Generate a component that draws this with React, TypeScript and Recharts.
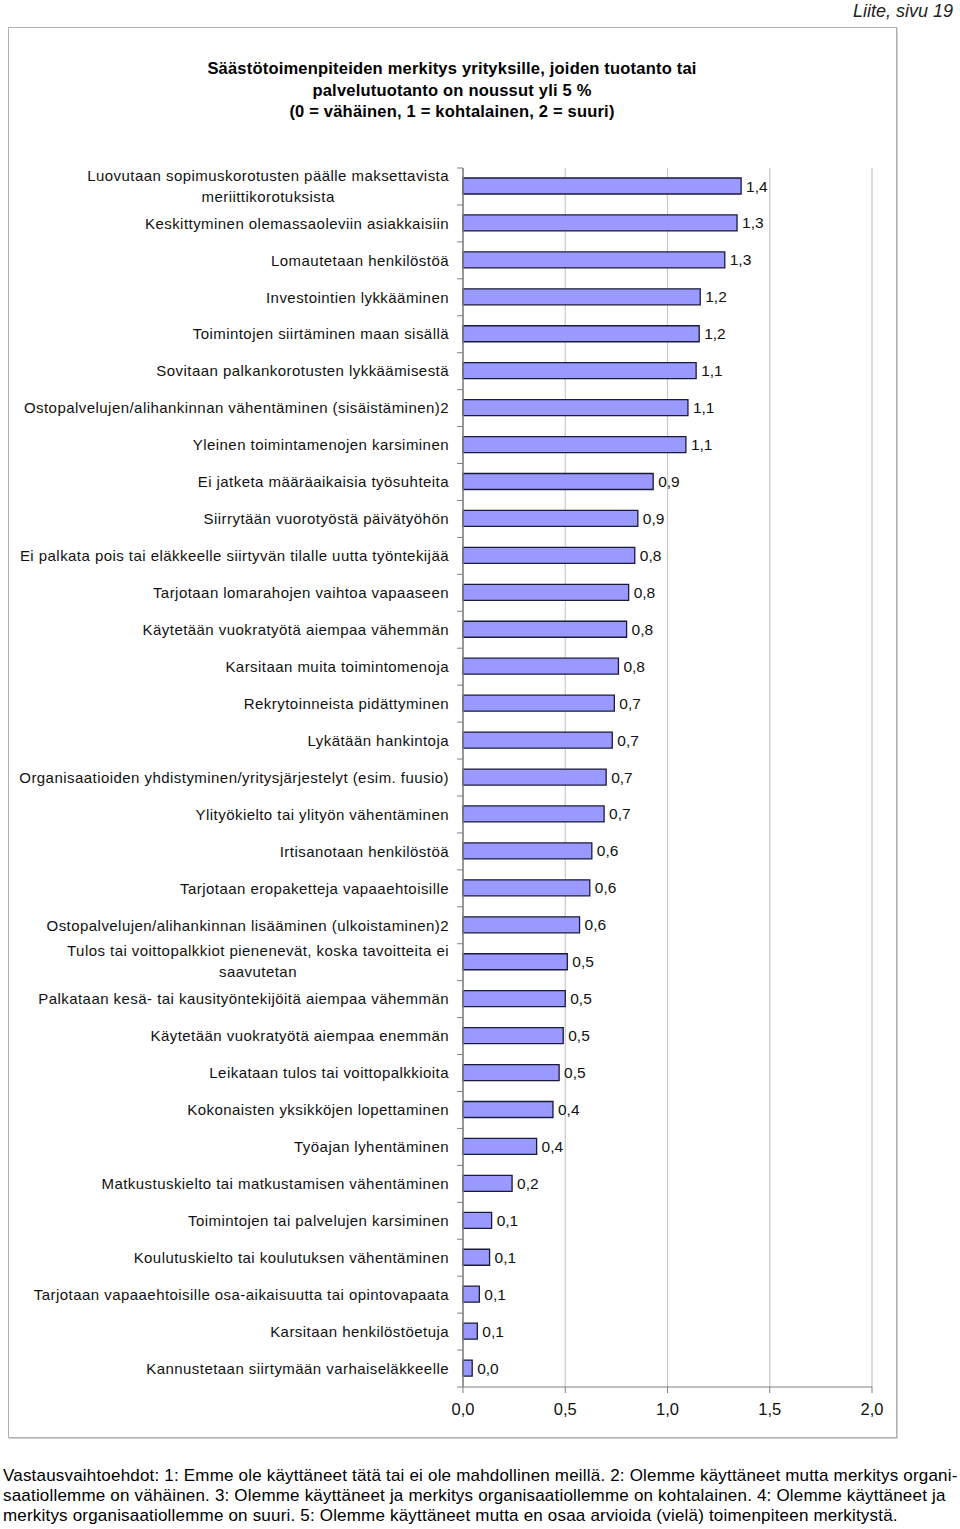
import React from 'react';
import { BarChart, Bar, XAxis, YAxis, CartesianGrid, LabelList } from 'recharts';

const categories = [
  'Luovutaan sopimuskorotusten päälle maksettavista\nmeriittikorotuksista',
  'Keskittyminen olemassaoleviin asiakkaisiin',
  'Lomautetaan henkilöstöä',
  'Investointien lykkääminen',
  'Toimintojen siirtäminen maan sisällä',
  'Sovitaan palkankorotusten lykkäämisestä',
  'Ostopalvelujen/alihankinnan vähentäminen (sisäistäminen)2',
  'Yleinen toimintamenojen karsiminen',
  'Ei jatketa määräaikaisia työsuhteita',
  'Siirrytään vuorotyöstä päivätyöhön',
  'Ei palkata pois tai eläkkeelle siirtyvän tilalle uutta työntekijää',
  'Tarjotaan lomarahojen vaihtoa vapaaseen',
  'Käytetään vuokratyötä aiempaa vähemmän',
  'Karsitaan muita toimintomenoja',
  'Rekrytoinneista pidättyminen',
  'Lykätään hankintoja',
  'Organisaatioiden yhdistyminen/yritysjärjestelyt (esim. fuusio)',
  'Ylityökielto tai ylityön vähentäminen',
  'Irtisanotaan henkilöstöä',
  'Tarjotaan eropaketteja vapaaehtoisille',
  'Ostopalvelujen/alihankinnan lisääminen (ulkoistaminen)2',
  'Tulos tai voittopalkkiot pienenevät, koska tavoitteita ei\nsaavutetan',
  'Palkataan kesä- tai kausityöntekijöitä aiempaa vähemmän',
  'Käytetään vuokratyötä aiempaa enemmän',
  'Leikataan tulos tai voittopalkkioita',
  'Kokonaisten yksikköjen lopettaminen',
  'Työajan lyhentäminen',
  'Matkustuskielto tai matkustamisen vähentäminen',
  'Toimintojen tai palvelujen karsiminen',
  'Koulutuskielto tai koulutuksen vähentäminen',
  'Tarjotaan vapaaehtoisille osa-aikaisuutta tai opintovapaata',
  'Karsitaan henkilöstöetuja',
  'Kannustetaan siirtymään varhaiseläkkeelle',
];

const values = [
  1.36, 1.34, 1.28, 1.16, 1.155, 1.14, 1.1, 1.09, 0.93, 0.855, 0.84,
  0.81, 0.8, 0.76, 0.74, 0.73, 0.7, 0.69, 0.63, 0.62, 0.57, 0.51,
  0.5, 0.49, 0.47, 0.44, 0.36, 0.24, 0.14, 0.13, 0.08, 0.07, 0.045,
];

const xTicks = [0, 0.5, 1, 1.5, 2];

const titleLines = [
  'Säästötoimenpiteiden merkitys yrityksille, joiden tuotanto tai',
  'palvelutuotanto on noussut yli 5 %',
  '(0 = vähäinen, 1 = kohtalainen, 2 = suuri)',
];

const footerLines = [
  'Vastausvaihtoehdot: 1: Emme ole käyttäneet tätä tai ei ole mahdollinen meillä. 2: Olemme käyttäneet mutta merkitys organi-',
  'saatiollemme on vähäinen. 3: Olemme käyttäneet ja merkitys organisaatiollemme on kohtalainen. 4: Olemme käyttäneet ja',
  'merkitys organisaatiollemme on suuri. 5: Olemme käyttäneet mutta en osaa arvioida (vielä) toimenpiteen merkitystä.',
];

const pageNote = 'Liite, sivu 19';

const data = categories.map((name, i) => ({ name, value: values[i] }));

const FONT = '"Liberation Sans", Arial, Helvetica, sans-serif';
const LABEL_SIZE = 15;
const LABEL_SPACING = 0.45;

const CHART_W = 960;
const CHART_H = 1529;
const MARGIN = { top: 168, right: 88, bottom: 112, left: 8 };
const Y_W = 455;
const X_H = 30;
const BAND = (CHART_H - MARGIN.top - MARGIN.bottom - X_H) / categories.length;

let measureCtx: CanvasRenderingContext2D | null = null;
function measure(t: string): number {
  if (!measureCtx) {
    measureCtx = document.createElement('canvas').getContext('2d');
  }
  if (!measureCtx) return t.length * 7.5;
  measureCtx.font = `${LABEL_SIZE}px ${FONT}`;
  return measureCtx.measureText(t).width + t.length * LABEL_SPACING;
}

const fmt = (v: number) => v.toFixed(1).replace('.', ',');

const YTick = (props: any) => {
  const { x, y, payload, index } = props;
  const lines = String(payload.value).split('\n');
  const right = x - 14;
  const marks = [
    <line key="m1" x1={x - 6} x2={x} y1={y - BAND / 2} y2={y - BAND / 2} stroke="#808080" />,
  ];
  if (index === categories.length - 1) {
    marks.push(
      <line key="m2" x1={x - 6} x2={x} y1={y + BAND / 2} y2={y + BAND / 2} stroke="#808080" />
    );
  }
  const textStyle = { letterSpacing: `${LABEL_SPACING}px` };
  if (lines.length === 1) {
    return (
      <g>
        {marks}
        <text x={right} y={y} dy="0.35em" textAnchor="end" fontSize={LABEL_SIZE} fontFamily={FONT} fill="#111" style={textStyle}>
          {lines[0]}
        </text>
      </g>
    );
  }
  const maxW = Math.max(...lines.map(measure));
  const cx = right - maxW / 2;
  return (
    <g>
      {marks}
      {lines.map((l, i) => (
        <text
          key={i}
          x={cx}
          y={y - 11 + i * 21}
          dy="0.35em"
          textAnchor="middle"
          fontSize={LABEL_SIZE}
          fontFamily={FONT}
          fill="#111"
          style={textStyle}
        >
          {l}
        </text>
      ))}
    </g>
  );
};

export default function App() {
  return (
    <div
      style={{
        position: 'absolute',
        left: 0,
        top: 0,
        width: CHART_W,
        height: CHART_H,
        background: '#fff',
        fontFamily: FONT,
        overflow: 'hidden',
      }}
    >
      <div
        style={{
          position: 'absolute',
          right: 7,
          top: 0,
          fontSize: 18,
          fontStyle: 'italic',
          color: '#222',
          lineHeight: '22px',
        }}
      >
        {pageNote}
      </div>
      <div
        style={{
          position: 'absolute',
          left: 8,
          top: 27,
          width: 887,
          height: 1409,
          border: '1px solid #b0b0b0',
          boxShadow: '1px 1px 0 #d0d0d0',
        }}
      />
      <div
        style={{
          position: 'absolute',
          left: 8,
          width: 888,
          top: 58,
          textAlign: 'center',
          fontWeight: 'bold',
          fontSize: 16.5,
          letterSpacing: '0.2px',
          lineHeight: '21.5px',
          color: '#000',
        }}
      >
        {titleLines.map((l, i) => (
          <div key={i}>{l}</div>
        ))}
      </div>
      <div style={{ position: 'absolute', left: 0, top: 0 }}>
        <BarChart
          width={CHART_W}
          height={CHART_H}
          data={data}
          layout="vertical"
          margin={MARGIN}
        >
          <CartesianGrid horizontal={false} stroke="#c8c8c8" strokeWidth={1.2} />
          <XAxis
            type="number"
            domain={[0, 2]}
            ticks={xTicks}
            tickFormatter={fmt}
            height={X_H}
            axisLine={{ stroke: '#808080', strokeWidth: 1.2 }}
            tickLine={{ stroke: '#808080' }}
            tickSize={6}
            tickMargin={10}
            tick={{ fontSize: 16.5, fill: '#111', fontFamily: FONT }}
          />
          <XAxis
            xAxisId="top"
            orientation="top"
            type="number"
            domain={[0, 2]}
            height={0}
            tick={false}
            tickLine={false}
            axisLine={{ stroke: '#c8c8c8', strokeWidth: 1.2 }}
          />
          <YAxis
            type="category"
            dataKey="name"
            width={Y_W}
            interval={0}
            tickSize={0}
            tickMargin={0}
            tickLine={false}
            axisLine={{ stroke: '#808080', strokeWidth: 1.5 }}
            tick={<YTick />}
          />
          <Bar
            dataKey="value"
            barSize={16}
            fill="#9999ff"
            stroke="#1a1a3a"
            strokeWidth={1.3}
            isAnimationActive={false}
          >
            <LabelList
              dataKey="value"
              position="right"
              offset={5}
              formatter={(v: any) => fmt(Number(v))}
              style={{ fontSize: 15.5, fill: '#111', fontFamily: FONT }}
            />
          </Bar>
        </BarChart>
      </div>
      <div
        style={{
          position: 'absolute',
          left: 3,
          top: 1466,
          fontSize: 17,
          letterSpacing: '0.19px',
          lineHeight: '20px',
          color: '#000',
          whiteSpace: 'nowrap',
        }}
      >
        {footerLines.map((l, i) => (
          <div key={i}>{l}</div>
        ))}
      </div>
    </div>
  );
}
